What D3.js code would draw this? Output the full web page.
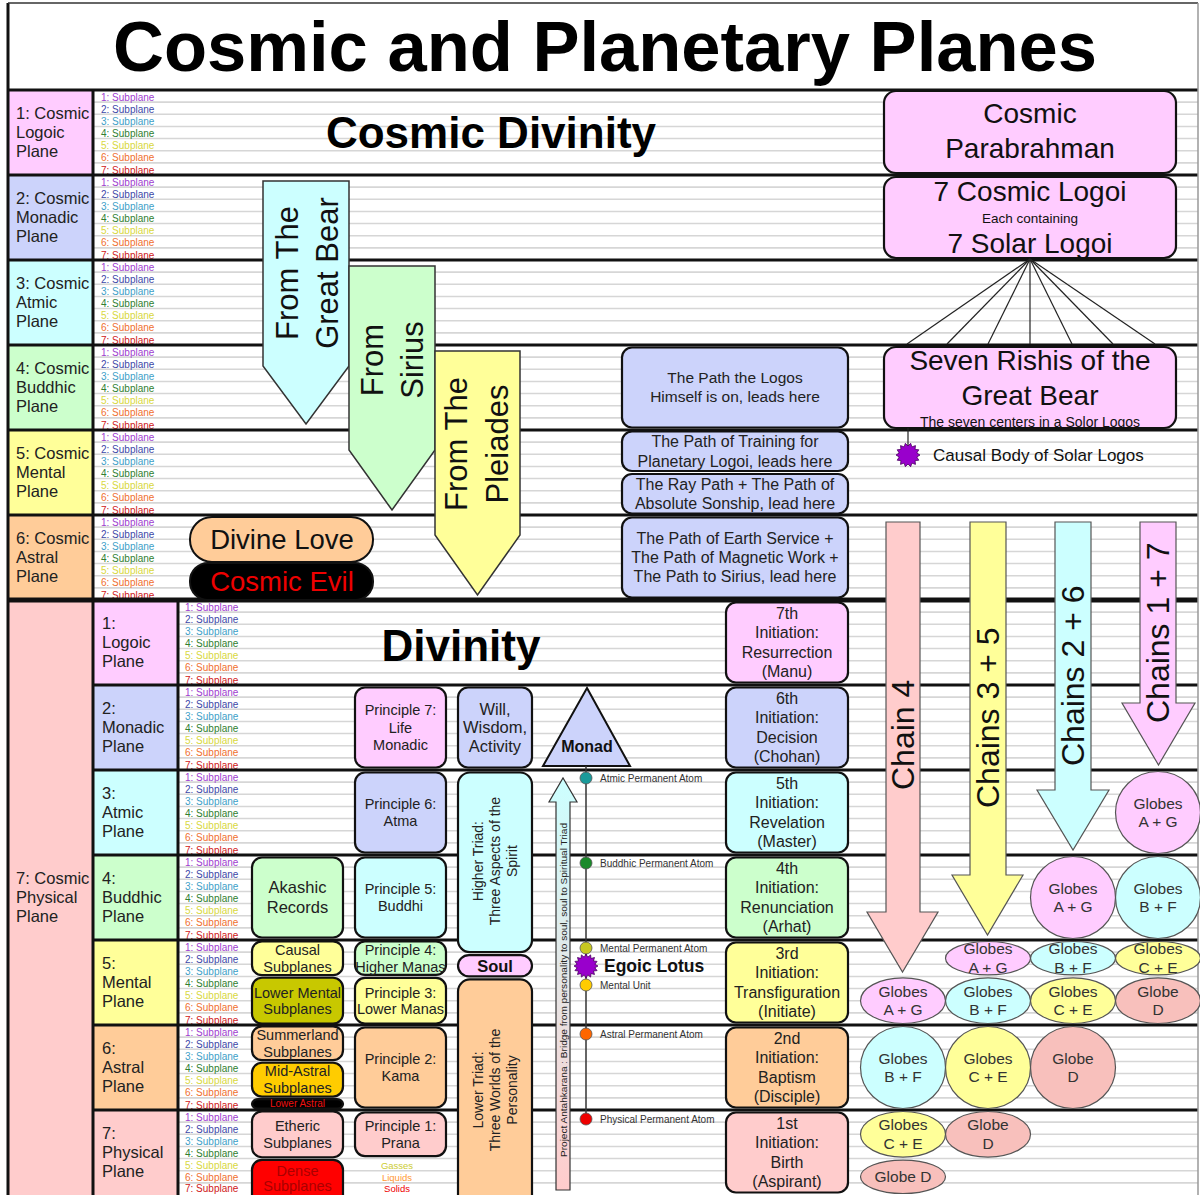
<!DOCTYPE html>
<html><head><meta charset="utf-8">
<script src="https://cdn.jsdelivr.net/npm/d3@7"></script>
<style>body{margin:0;background:#fff}svg{display:block}text{font-family:"Liberation Sans",Arial,sans-serif}</style>
</head><body><svg id="c" width="1200" height="1195"></svg>
<script>
// ---------------- DATA ----------------
const title = "Cosmic and Planetary Planes";
const cosmicPlanes = [["1: Cosmic","Logoic","Plane"],["2: Cosmic","Monadic","Plane"],["3: Cosmic","Atmic","Plane"],["4: Cosmic","Buddhic","Plane"],["5: Cosmic","Mental","Plane"],["6: Cosmic","Astral","Plane"]];
const cosmicPhysical = ["7: Cosmic","Physical","Plane"];
const physicalPlanes = [["1:","Logoic","Plane"],["2:","Monadic","Plane"],["3:","Atmic","Plane"],["4:","Buddhic","Plane"],["5:","Mental","Plane"],["6:","Astral","Plane"],["7:","Physical","Plane"]];
const subplanes = ["1: Subplane","2: Subplane","3: Subplane","4: Subplane","5: Subplane","6: Subplane","7: Subplane"];
const subplaneColors = ["#a040d0","#4048a8","#40a0c8","#308030","#d8d840","#f07030","#d02020"];
const planeColors = ["#ffccff","#ccd3fb","#ccffff","#ccffcc","#ffff99","#ffcc99","#ffcccc"];
const cosmicHeadings = ["Cosmic Divinity","Divinity"];
const streams = [["From The","Great Bear"],["From","Sirius"],["From The","Pleiades"]];
const loveEvil = ["Divine Love","Cosmic Evil"];
const paths = [
  ["The Path the Logos","Himself is on, leads here"],
  ["The Path of Training for","Planetary Logoi, leads here"],
  ["The Ray Path + The Path of","Absolute Sonship, lead here"],
  ["The Path of Earth Service +","The Path of Magnetic Work +","The Path to Sirius, lead here"]];
const cosmicBeings = [["Cosmic","Parabrahman"],["7 Cosmic Logoi","Each containing","7 Solar Logoi"],["Seven Rishis of the","Great Bear","The seven centers in a Solor Logos"]];
const causalBody = "Causal Body of Solar Logos";
const initiations = [
  ["7th","Initiation:","Resurrection","(Manu)"],
  ["6th","Initiation:","Decision","(Chohan)"],
  ["5th","Initiation:","Revelation","(Master)"],
  ["4th","Initiation:","Renunciation","(Arhat)"],
  ["3rd","Initiation:","Transfiguration","(Initiate)"],
  ["2nd","Initiation:","Baptism","(Disciple)"],
  ["1st","Initiation:","Birth","(Aspirant)"]];
const principles = [["Principle 7:","Life","Monadic"],["Principle 6:","Atma"],["Principle 5:","Buddhi"],["Principle 4:","Higher Manas"],["Principle 3:","Lower Manas"],["Principle 2:","Kama"],["Principle 1:","Prana"]];
const subplaneGroups = [["Akashic","Records"],["Causal","Subplanes"],["Lower Mental","Subplanes"],["Summerland","Subplanes"],["Mid-Astral","Subplanes"],["Lower Astral"],["Etheric","Subplanes"],["Dense","Subplanes"]];
const densities = ["Gasses","Liquids","Solids"];
const triads = [["Will,","Wisdom,","Activity"],["Higher Triad:","Three Aspects of the","Spirit"],["Soul"],["Lower Triad:","Three Worlds of the","Personality"]];
const atoms = ["Atmic Permanent Atom","Buddhic Permanent Atom","Mental Permanent Atom","Mental Unit","Astral Permanent Atom","Physical Permanent Atom"];
const monad = "Monad", egoic = "Egoic Lotus";
const antahkarana = "Project Antahkarana : Bridge from personality to soul, soul to Spiritual Triad";
const chains = ["Chain 4","Chains 3 + 5","Chains 2 + 6","Chains 1 + 7"];
const globeNames = [["Globes","A + G"],["Globes","B + F"],["Globes","C + E"],["Globe","D"]];

// ---------------- LAYOUT ----------------
const svg = d3.select("#c");
const y = d3.scaleLinear().domain([0,13]).range([90,1195]);
const S = 1/7;
const gBg = svg.append("g"), gMain = svg.append("g");

function textBlock(g, x, cy, arr, fs, lh, opt={}) {
  const n = arr.length;
  arr.forEach((t,i)=>{
    g.append("text").attr("x",x).attr("y",cy-(n-1)*lh/2+0.35*fs+i*lh)
      .attr("text-anchor",opt.anchor||"middle").attr("font-size",fs)
      .attr("font-weight",opt.bold?"bold":"normal")
      .attr("fill",opt.color||"#222").text(t);
  });
}
function rbox(g,x0,y0,x1,y1,fill,rx=10,sw=2.2,stroke="#111"){
  return g.append("rect").attr("x",x0).attr("y",y0).attr("width",x1-x0).attr("height",y1-y0)
    .attr("rx",rx).attr("fill",fill).attr("stroke",stroke).attr("stroke-width",sw);
}
function box(x0,x1,r0,r1,fill,lines,fs,lh,opt={}){
  const ins = opt.inset==null?2.5:opt.inset;
  const y0=y(r0)+ins, y1=y(r1)-ins;
  rbox(gMain,x0,y0,x1,y1,fill,opt.rx==null?10:opt.rx);
  textBlock(gMain,(x0+x1)/2,(y0+y1)/2+(opt.dy||0),lines,fs,lh,opt);
}
function star(cx,cy,ro,ri,n){
  const pts=[];
  for(let i=0;i<2*n;i++){const a=Math.PI*i/n; const r=i%2?ri:ro; pts.push([cx+r*Math.cos(a),cy+r*Math.sin(a)]);}
  return "M"+pts.map(p=>p.join(",")).join("L")+"Z";
}

// Background: plane colour cells, subplane lines and labels
for(let r=0;r<6;r++){
  gBg.append("rect").attr("x",8).attr("y",y(r)).attr("width",85).attr("height",y(r+1)-y(r)).attr("fill",planeColors[r]);
  textBlock(gBg,16,(y(r)+y(r+1))/2,cosmicPlanes[r],16.5,19,{anchor:"start"});
}
gBg.append("rect").attr("x",8).attr("y",y(6)).attr("width",85).attr("height",y(13)-y(6)).attr("fill",planeColors[6]);
textBlock(gBg,16,(y(6)+y(13))/2,cosmicPhysical,16.5,19,{anchor:"start"});
for(let r=6;r<13;r++){
  gBg.append("rect").attr("x",93).attr("y",y(r)).attr("width",85).attr("height",y(r+1)-y(r)).attr("fill",planeColors[r-6]);
  textBlock(gBg,102,(y(r)+y(r+1))/2,physicalPlanes[r-6],16.5,19,{anchor:"start"});
}
for(let r=0;r<13;r++){
  const xs = r<6?93:178;
  for(let k=1;k<7;k++){
    gBg.append("line").attr("x1",xs).attr("x2",1198).attr("y1",y(r+k*S)).attr("y2",y(r+k*S)).attr("stroke","#d6d6d6").attr("stroke-width",1.6);
  }
  subplanes.forEach((s,k)=>{
    gBg.append("text").attr("x",xs+(r<6?8:7)).attr("y",Math.min(y(r+(k+1)*S)-1.5,1192)).attr("font-size",10)
      .attr("fill",subplaneColors[k]).text(s);
  });
}
// thick band lines and frame
for(let r=0;r<=12;r++){
  gBg.append("line").attr("x1",r<=6?8:93).attr("x2",1198).attr("y1",y(r)).attr("y2",y(r))
    .attr("stroke","#111").attr("stroke-width",r===6?5:3);
}
gBg.append("line").attr("x1",8).attr("x2",8).attr("y1",3).attr("y2",1195).attr("stroke","#111").attr("stroke-width",3);
gBg.append("line").attr("x1",93).attr("x2",93).attr("y1",90).attr("y2",1195).attr("stroke","#111").attr("stroke-width",3);
gBg.append("line").attr("x1",178).attr("x2",178).attr("y1",600).attr("y2",1195).attr("stroke","#111").attr("stroke-width",3);
gBg.append("line").attr("x1",8).attr("x2",1198).attr("y1",3).attr("y2",3).attr("stroke","#333").attr("stroke-width",1.5);
gBg.append("line").attr("x1",1198).attr("x2",1198).attr("y1",3).attr("y2",1195).attr("stroke","#999").attr("stroke-width",1.5);

// Title & headings
gMain.append("text").attr("x",605).attr("y",71).attr("text-anchor","middle").attr("font-size",70).attr("font-weight","bold")
  .attr("textLength",984).attr("lengthAdjust","spacingAndGlyphs").attr("fill","#000").text(title);
gMain.append("text").attr("x",491).attr("y",148).attr("text-anchor","middle").attr("font-size",44).attr("font-weight","bold").attr("fill","#000").text(cosmicHeadings[0]);
gMain.append("text").attr("x",461).attr("y",661).attr("text-anchor","middle").attr("font-size",44).attr("font-weight","bold").attr("fill","#000").text(cosmicHeadings[1]);

// Stream arrows (From the Great Bear / Sirius / Pleiades)
const streamGeo = [
  {x0:263,x1:349,top:181,sh:366,tip:424,fill:"#ccffff",tx:307,ty:273,lh:40},
  {x0:349,x1:435,top:266,sh:450,tip:510,fill:"#ccffcc",tx:392,ty:360,lh:40},
  {x0:435,x1:520,top:351,sh:535,tip:595,fill:"#ffff99",tx:477,ty:444,lh:41}];
streamGeo.forEach((s,i)=>{
  const xm=(s.x0+s.x1)/2;
  gMain.append("path").attr("d",`M${s.x0},${s.top}L${s.x1},${s.top}L${s.x1},${s.sh}L${xm},${s.tip}L${s.x0},${s.sh}Z`)
    .attr("fill",s.fill).attr("stroke","#333").attr("stroke-width",1.5);
  const g=gMain.append("g").attr("transform",`translate(${s.tx},${s.ty}) rotate(-90)`);
  textBlock(g,0,0,streams[i],31,s.lh,{color:"#111"});
});

// Divine Love / Cosmic Evil
rbox(gMain,190,517,373,562,"#ffcc99",22,2);
textBlock(gMain,282,539.5,[loveEvil[0]],27.5,0,{color:"#111"});
rbox(gMain,190,563,373,600,"#000",18,2);
textBlock(gMain,282,581.5,[loveEvil[1]],27.5,0,{color:"#ee0000"});

// Path boxes
box(622,848,3,4,planeColors[1],paths[0],15.5,19);
box(622,848,4,4.5,planeColors[1],paths[1],16,19.5,{inset:1.5});
box(622,848,4.5,5,planeColors[1],paths[2],16,19,{inset:1.5});
box(622,848,5,6,planeColors[1],paths[3],16,19);

// Cosmic beings (right)
function customBox(x0,x1,y0,y1,fill,items){
  rbox(gMain,x0,y0,x1,y1,fill,12);
  items.forEach(it=>gMain.append("text").attr("x",(x0+x1)/2).attr("y",y0+it.dy).attr("text-anchor","middle")
    .attr("font-size",it.fs).attr("fill","#111").text(it.t));
}
customBox(884,1176,y(0)+1,y(1)-2,"#ffccff",[{t:cosmicBeings[0][0],fs:28,dy:32},{t:cosmicBeings[0][1],fs:28,dy:67}]);
customBox(884,1176,y(1)+2,y(2)-2,"#ffccff",[{t:cosmicBeings[1][0],fs:28,dy:24},{t:cosmicBeings[1][1],fs:13.5,dy:46},{t:cosmicBeings[1][2],fs:28,dy:76}]);
const fanX=[907,947,988,1030,1072,1113,1155];
fanX.forEach(x=>gMain.append("line").attr("x1",1030).attr("y1",y(2)-1).attr("x2",x).attr("y2",344).attr("stroke","#222").attr("stroke-width",1.2));
customBox(884,1176,y(3)+2,y(4)-2,"#ffccff",[{t:cosmicBeings[2][0],fs:28,dy:23},{t:cosmicBeings[2][1],fs:28,dy:58},{t:cosmicBeings[2][2],fs:14,dy:80}]);
gMain.append("line").attr("x1",908).attr("x2",908).attr("y1",428).attr("y2",448).attr("stroke","#222").attr("stroke-width",1.2);
gMain.append("path").attr("d",star(908,455,12,9,14)).attr("fill","#9900cc").attr("stroke","#4a0060").attr("stroke-width",0.8);
gMain.append("text").attr("x",933).attr("y",461).attr("font-size",17).attr("fill","#111").text(causalBody);

// Initiations
initiations.forEach((t,i)=>box(726,848,6+i,7+i,planeColors[i],t,16,19.5));

// Principles
const prSpans=[[7,8],[8,9],[9,10],[10,10+3*S],[10+3*S,11],[11,12],[12,12+4*S]];
principles.forEach((t,i)=>box(355,446,prSpans[i][0],prSpans[i][1],planeColors[i],t,14.5,i<3||i>4?17.5:16.5,{inset:i>=3&&i<=4?1.5:2.5}));
densities.forEach((t,i)=>gMain.append("text").attr("x",397).attr("y",1169+i*11.5).attr("text-anchor","middle").attr("font-size",9.5)
  .attr("fill",["#cccc33","#ff9933","#ee0000"][i]).text(t));

// Subplane groups
const sgSpans=[[9,10],[10,10+3*S],[10+3*S,11],[11,11+3*S],[11+3*S,11+6*S],[11+6*S,12],[12,12+4*S],[12+4*S,13.4]];
const sgFill=["#ccffcc","#ffff99","#c8c800","#ffcc99","#ffcc00","#000","#ffcccc","#ff0000"];
subplaneGroups.forEach((t,i)=>{
  const fs=i===0?16.5:i===5?10:14.5;
  box(252,343,sgSpans[i][0],sgSpans[i][1],sgFill[i],t,fs,i===0?20:i===7?15:16.5,
    {inset:i===0?2.5:1.3,rx:i===5?6:10,color:i===5?"#ee1111":i===7?"#aa0000":"#222",dy:i===7?-15:0});
});

// Triads
box(458,532,7,8,planeColors[1],triads[0],16.5,18.5);
rbox(gMain,458,y(8)+2.5,532,y(10+S),"#ccffff",12);
{const g=gMain.append("g").attr("transform",`translate(495,${(y(8)+y(10+S))/2}) rotate(-90)`);textBlock(g,0,0,triads[1],14,17);}
rbox(gMain,458,y(10+S)+3,532,y(10+3*S),"#ffccff",11);
textBlock(gMain,495,(y(10+S)+3+y(10+3*S))/2,triads[2],16.5,0,{bold:true,color:"#111"});
rbox(gMain,458,y(10+3*S)+3,532,1215,"#ffcc99",12);
{const g=gMain.append("g").attr("transform",`translate(495,1090) rotate(-90)`);textBlock(g,0,0,triads[3],14,17);}

// Antahkarana arrow
const defs=svg.append("defs");
const grad=defs.append("linearGradient").attr("id","ant").attr("x1",0).attr("x2",0).attr("y1",0).attr("y2",1);
grad.append("stop").attr("offset","0%").attr("stop-color","#ccffff");
grad.append("stop").attr("offset","100%").attr("stop-color","#ffcccc");
gMain.append("path").attr("d","M556,1190L556,802L549,802L563,778L577,802L570,802L570,1190Z")
  .attr("fill","url(#ant)").attr("stroke","#333").attr("stroke-width",1.2);
gMain.append("text").attr("transform","translate(566.5,1157) rotate(-90)").attr("font-size",9.5).attr("fill","#222")
  .attr("textLength",334).attr("lengthAdjust","spacingAndGlyphs").text(antahkarana);

// Monad and permanent atoms
gMain.append("path").attr("d","M587,688L630,766L543,766Z").attr("fill","#ccd3fb").attr("stroke","#111").attr("stroke-width",2);
gMain.append("text").attr("x",587).attr("y",752).attr("text-anchor","middle").attr("font-size",16).attr("font-weight","bold").attr("fill","#111").text(monad);
gMain.append("line").attr("x1",586).attr("x2",586).attr("y1",766).attr("y2",1119).attr("stroke","#333").attr("stroke-width",1.5);
const atomY=[778,863,948,985,1034,1119];
const atomC=["#1a9a9a","#1a8a2a","#c8c820","#ffcc00","#ff6600","#ee0000"];
atoms.forEach((a,i)=>{
  gMain.append("circle").attr("cx",586).attr("cy",atomY[i]).attr("r",6).attr("fill",atomC[i]).attr("stroke","#555").attr("stroke-width",0.8);
  gMain.append("text").attr("x",600).attr("y",atomY[i]+3.5).attr("font-size",10).attr("fill","#333").text(a);
});
gMain.append("path").attr("d",star(586,966,12,9,16)).attr("fill","#9900cc").attr("stroke","#4a0060").attr("stroke-width",0.8);
gMain.append("text").attr("x",604).attr("y",972).attr("font-size",17.5).attr("font-weight","bold").attr("fill","#111").text(egoic);

// Chains arrows
const chainGeo=[
  {s0:886,s1:920,h0:867,h1:938,hb:912,tip:972,fill:"#ffcccc",tb:790},
  {s0:970,s1:1006,h0:952,h1:1023,hb:875,tip:935,fill:"#ffff99",tb:808},
  {s0:1055,s1:1091,h0:1037,h1:1109,hb:790,tip:850,fill:"#ccffff",tb:766},
  {s0:1140,s1:1176,h0:1122,h1:1195,hb:703,tip:765,fill:"#ffccff",tb:723}];
chainGeo.forEach((c,i)=>{
  const xm=(c.h0+c.h1)/2;
  gMain.append("path").attr("d",`M${c.s0},522L${c.s1},522L${c.s1},${c.hb}L${c.h1},${c.hb}L${xm},${c.tip}L${c.h0},${c.hb}L${c.s0},${c.hb}Z`)
    .attr("fill",c.fill).attr("stroke","#555").attr("stroke-width",1.2);
  gMain.append("text").attr("transform",`translate(${(c.s0+c.s1)/2},${c.tb}) rotate(-90)`).attr("y",0.35*32)
    .attr("font-size",32).attr("fill","#111").text(chains[i]);
});

// Globes: [chain column, globe index, row start, row end]
const globeCx=[903,988,1073,1158];
const globeFill=["#ffccff","#ccffff","#ffff99","#f8c0bc"];
const globes=[
  [3,0,8,9],[3,1,9,10],[3,2,10,10+3*S],[3,3,10+3*S,11],
  [2,0,9,10],[2,1,10,10+3*S],[2,2,10+3*S,11],[2,3,11,12],
  [1,0,10,10+3*S],[1,1,10+3*S,11],[1,2,11,12],[1,3,12,12+4*S],
  [0,0,10+3*S,11],[0,1,11,12],[0,2,12,12+4*S],[0,3,12+4*S,13]];
globes.forEach(([c,gi,r0,r1])=>{
  const y0=y(r0)+1.5,y1=y(r1)-1.5, cy=(y0+y1)/2, ry=(y1-y0)/2;
  gMain.append("ellipse").attr("cx",globeCx[c]).attr("cy",cy).attr("rx",42.5).attr("ry",ry)
    .attr("fill",globeFill[gi]).attr("stroke","#555").attr("stroke-width",1.2);
  const lbl = (c===0&&gi===3)?["Globe D"]:globeNames[gi];
  textBlock(gMain,globeCx[c],cy,lbl,15.5,18.5,{color:"#333"});
});
</script></body></html>
